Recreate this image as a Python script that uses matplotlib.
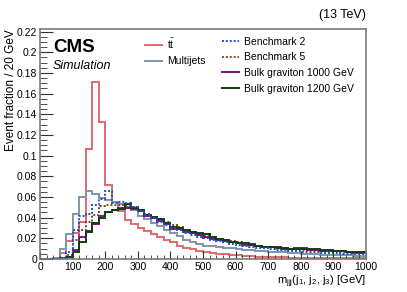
# m_jjj distributions, CMS simulation style
import numpy as np
import matplotlib.pyplot as plt
from matplotlib.lines import Line2D
from matplotlib.ticker import MultipleLocator

plt.rcParams['font.family'] = ['Liberation Sans', 'DejaVu Sans']
plt.rcParams['mathtext.fontset'] = 'custom'
plt.rcParams['mathtext.rm'] = 'Liberation Sans'
plt.rcParams['mathtext.it'] = 'Liberation Sans:italic'

# bin edges: 0 .. 1000 GeV in 20 GeV steps
edges = np.arange(0, 1001, 20)

# event fractions (50 bins each)
ttbar = [0, 0, 0.001, 0.006, 0.017, 0.025, 0.036, 0.106, 0.171, 0.1325,
         0.072, 0.055, 0.046, 0.038, 0.034, 0.030, 0.027, 0.024, 0.021, 0.018,
         0.016, 0.013, 0.011, 0.0095, 0.008, 0.007, 0.006, 0.0052, 0.0045, 0.004,
         0.0035, 0.003, 0.0027, 0.0024, 0.0021, 0.0019, 0.0017, 0.0015, 0.0014, 0.0012,
         0.0011, 0.001, 0.0009, 0.0008, 0.0008, 0.0007, 0.0006, 0.0006, 0.0005, 0.0005]

multijets = [0, 0, 0.001, 0.010, 0.024, 0.044, 0.060, 0.0655, 0.063, 0.059,
             0.057, 0.055, 0.053, 0.050, 0.047, 0.042, 0.039, 0.035, 0.032, 0.028,
             0.025, 0.022, 0.018, 0.016, 0.0145, 0.013, 0.0122, 0.0115, 0.011, 0.0102,
             0.0095, 0.009, 0.0085, 0.008, 0.0076, 0.0072, 0.0068, 0.0065, 0.006, 0.0056,
             0.0052, 0.0049, 0.0046, 0.0043, 0.004, 0.0038, 0.0036, 0.0034, 0.0032, 0.003]

bench2 = [0, 0, 0, 0.001, 0.007, 0.028, 0.042, 0.044, 0.052, 0.058,
          0.066, 0.054, 0.055, 0.054, 0.050, 0.046, 0.043, 0.040, 0.036, 0.033,
          0.030, 0.028, 0.025, 0.023, 0.021, 0.020, 0.018, 0.017, 0.016, 0.0148,
          0.0135, 0.013, 0.012, 0.011, 0.0105, 0.0098, 0.009, 0.0085, 0.008, 0.0076,
          0.0072, 0.0068, 0.0065, 0.006, 0.0057, 0.0055, 0.0052, 0.005, 0.0048, 0.0045]

bench5 = [0, 0, 0, 0.001, 0.004, 0.018, 0.028, 0.036, 0.043, 0.051,
          0.052, 0.052, 0.052, 0.051, 0.050, 0.047, 0.044, 0.041, 0.039, 0.036,
          0.033, 0.031, 0.028, 0.026, 0.024, 0.022, 0.020, 0.019, 0.018, 0.017,
          0.016, 0.015, 0.014, 0.013, 0.012, 0.0115, 0.011, 0.0105, 0.010, 0.0095,
          0.009, 0.0088, 0.0085, 0.008, 0.0078, 0.0075, 0.0072, 0.007, 0.0068, 0.0065]

bulk1000 = [0, 0, 0, 0.0005, 0.002, 0.009, 0.021, 0.027, 0.034, 0.042,
            0.045, 0.047, 0.049, 0.049, 0.048, 0.046, 0.042, 0.040, 0.037, 0.034,
            0.029, 0.029, 0.026, 0.025, 0.023, 0.021, 0.019, 0.018, 0.017, 0.016,
            0.0155, 0.014, 0.0145, 0.013, 0.012, 0.0115, 0.012, 0.010, 0.010, 0.0105,
            0.011, 0.009, 0.0088, 0.008, 0.0078, 0.0075, 0.0078, 0.0065, 0.0062, 0.006]

bulk1200 = [0, 0, 0, 0.0003, 0.0015, 0.007, 0.016, 0.026, 0.035, 0.040,
            0.045, 0.047, 0.048, 0.053, 0.049, 0.047, 0.043, 0.041, 0.039, 0.035,
            0.031, 0.030, 0.028, 0.026, 0.025, 0.024, 0.021, 0.019, 0.018, 0.016,
            0.015, 0.015, 0.014, 0.013, 0.012, 0.0115, 0.011, 0.011, 0.010, 0.010,
            0.0095, 0.0098, 0.0095, 0.0085, 0.0085, 0.008, 0.0082, 0.007, 0.0068, 0.0068]

c_tt = '#e06a6e'
c_qcd = '#7d95ab'
c_b2 = '#1f4fc8'
c_b5 = '#7f4a1e'
c_g1000 = '#7d0f86'
c_g1200 = '#0f3f12'

fig = plt.figure(figsize=(4.07, 2.92), dpi=100)
ax = fig.add_axes([40 / 407, 33 / 292, 326 / 407, 230 / 292])

lw = 1.4
ax.stairs(ttbar, edges, color=c_tt, lw=lw, baseline=None)
ax.stairs(multijets, edges, color=c_qcd, lw=lw, baseline=None)
ax.stairs(bench5, edges, color=c_b5, lw=lw, ls=(0, (1, 1)), baseline=None)
ax.stairs(bulk1000, edges, color=c_g1000, lw=lw, baseline=None)
ax.stairs(bulk1200, edges, color=c_g1200, lw=lw, baseline=None)
ax.stairs(bench2, edges, color=c_b2, lw=lw, ls=(0, (1, 1)), baseline=None)

ax.set_xlim(0, 1000)
ax.set_ylim(0, 0.2225)

ax.xaxis.set_major_locator(MultipleLocator(100))
ax.xaxis.set_minor_locator(MultipleLocator(20))
ax.yaxis.set_major_locator(MultipleLocator(0.02))
ax.yaxis.set_minor_locator(MultipleLocator(0.005))
ax.tick_params(which='both', direction='in', labelsize=7.5, color='#333333', pad=2)
ax.tick_params(which='major', axis='y', length=9)
ax.tick_params(which='minor', axis='y', length=5)
ax.tick_params(which='major', axis='x', length=6)
ax.tick_params(which='minor', axis='x', length=3)
ax.set_yticks(np.arange(0, 0.221, 0.02))
ax.set_yticklabels(['0', '0.02', '0.04', '0.06', '0.08', '0.1', '0.12',
                    '0.14', '0.16', '0.18', '0.2', '0.22'])
for s in ax.spines.values():
    s.set_color('#7a7a7a')
    s.set_linewidth(1.2)

ax.set_ylabel('Event fraction / 20 GeV', fontsize=8.5, loc='top', labelpad=0)
ax.set_xlabel(r'm$_{\mathrm{jjj}}$(j$_{1}$, j$_{2}$, j$_{3}$) [GeV]',
              fontsize=8, loc='right', labelpad=1)

ax.text(0.04, 0.955, 'CMS', transform=ax.transAxes, fontsize=13.5,
        fontweight='bold', va='top', ha='left')
ax.text(0.04, 0.865, 'Simulation', transform=ax.transAxes, fontsize=9,
        style='italic', va='top', ha='left')
fig.text(366 / 407, 1 - 15 / 292, '(13 TeV)', fontsize=9, ha='right', va='center')

h1 = [Line2D([], [], color=c_tt, lw=lw), Line2D([], [], color=c_qcd, lw=lw)]
l1 = [r'$\mathrm{t\bar{t}}$', 'Multijets']
leg1 = ax.legend(h1, l1, loc='upper left', bbox_to_anchor=(0.31, 0.985),
                 frameon=False, fontsize=7.5, handlelength=1.6,
                 handletextpad=0.5, labelspacing=0.55, borderaxespad=0)
ax.add_artist(leg1)
h2 = [Line2D([], [], color=c_b2, lw=lw, ls=(0, (1, 1))),
      Line2D([], [], color=c_b5, lw=lw, ls=(0, (1, 1))),
      Line2D([], [], color=c_g1000, lw=lw),
      Line2D([], [], color=c_g1200, lw=lw)]
l2 = ['Benchmark 2', 'Benchmark 5', 'Bulk graviton 1000 GeV', 'Bulk graviton 1200 GeV']
ax.legend(h2, l2, loc='upper left', bbox_to_anchor=(0.545, 0.985),
          frameon=False, fontsize=7.5, handlelength=1.6,
          handletextpad=0.5, labelspacing=0.55, borderaxespad=0)

fig.savefig('out.png', dpi=100)
